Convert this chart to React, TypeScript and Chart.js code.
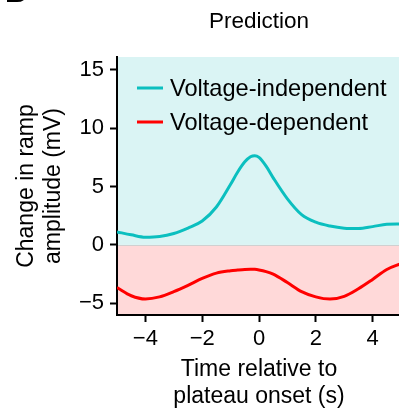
import { useEffect, useRef } from 'react';
import { Chart, registerables } from 'chart.js';

Chart.register(...registerables);

// Time (s) relative to plateau onset
const times = [-5, -4.5, -4, -3.5, -3, -2.5, -2, -1.5, -1, -0.75, -0.5, -0.3, -0.15, 0, 0.25, 0.5, 1, 1.5, 2, 2.5, 3, 3.5, 4, 4.5, 5];

// Predicted change in ramp amplitude (mV)
const voltageIndependent = [1.12, 0.87, 0.66, 0.72, 0.98, 1.45, 2.05, 3.25, 5.2, 6.25, 7.12, 7.55, 7.65, 7.5, 6.75, 5.75, 3.95, 2.6, 1.95, 1.62, 1.44, 1.41, 1.57, 1.77, 1.8];
const voltageDependent = [-3.65, -4.35, -4.63, -4.45, -4.0, -3.46, -2.87, -2.41, -2.21, -2.15, -2.1, -2.08, -2.09, -2.14, -2.28, -2.5, -3.22, -4.0, -4.45, -4.64, -4.4, -3.75, -2.95, -2.1, -1.6];

const seriesLabels = ['Voltage-independent', 'Voltage-dependent'];
const xTicks = [-4, -2, 0, 2, 4];
const yTicks = [-5, 0, 5, 10, 15];

const CYAN = '#0bbfbf';
const RED = '#ff0000';
const BG_UP = '#daf4f4';
const BG_DOWN = '#ffd9d9';
const FONT = "'Liberation Sans', Arial, Helvetica, sans-serif";

const fmt = (v: number) => (v < 0 ? '\u2212' + Math.abs(v) : String(v));

const decor = {
  id: 'decor',
  beforeDraw(chart: any) {
    const { ctx, chartArea: a, scales } = chart;
    const y0 = scales.y.getPixelForValue(0);
    ctx.save();
    ctx.fillStyle = BG_UP;
    ctx.fillRect(a.left, a.top, a.right - a.left, y0 - a.top);
    ctx.fillStyle = BG_DOWN;
    ctx.fillRect(a.left, y0, a.right - a.left, a.bottom - y0);
    ctx.strokeStyle = '#d0d0d0';
    ctx.lineWidth = 1;
    ctx.beginPath();
    ctx.moveTo(a.left, Math.round(y0) + 0.5);
    ctx.lineTo(a.right, Math.round(y0) + 0.5);
    ctx.stroke();
    ctx.restore();
  },
  afterDraw(chart: any) {
    const { ctx, chartArea: a } = chart;
    ctx.save();
    // panel letter
    ctx.fillStyle = '#000';
    ctx.font = `bold 30px ${FONT}`;
    ctx.textAlign = 'left';
    ctx.textBaseline = 'alphabetic';
    ctx.fillText('B', 5, 1.5);

    // title centred over the plotting area
    ctx.font = `22.5px ${FONT}`;
    ctx.textAlign = 'center';
    ctx.textBaseline = 'alphabetic';
    ctx.fillText('Prediction', (a.left + a.right) / 2, 28);

    // legend inside the plotting area
    const colors = [CYAN, RED];
    ctx.font = `23.6px ${FONT}`;
    ctx.textAlign = 'left';
    ctx.textBaseline = 'middle';
    seriesLabels.forEach((label, i) => {
      const cy = a.top + 31 + i * 34;
      ctx.strokeStyle = colors[i];
      ctx.lineWidth = 3;
      ctx.beginPath();
      ctx.moveTo(a.left + 20, cy);
      ctx.lineTo(a.left + 46, cy);
      ctx.stroke();
      ctx.fillStyle = '#000';
      ctx.fillText(label, a.left + 53, cy + 1);
    });
    ctx.restore();
  },
};

export default function App() {
  const ref = useRef<HTMLCanvasElement>(null);

  useEffect(() => {
    const canvas = ref.current;
    if (!canvas) return;
    const tickFont = { family: FONT, size: 22 };
    const titleFont = { family: FONT, size: 23, lineHeight: 1.18 };
    const chart = new Chart(canvas, {
      type: 'line',
      data: {
        datasets: [
          {
            label: seriesLabels[0],
            data: times.map((t, i) => ({ x: t, y: voltageIndependent[i] })),
            borderColor: CYAN,
            borderWidth: 3,
            pointRadius: 0,
            cubicInterpolationMode: 'monotone',
            fill: false,
          },
          {
            label: seriesLabels[1],
            data: times.map((t, i) => ({ x: t, y: voltageDependent[i] })),
            borderColor: RED,
            borderWidth: 3,
            pointRadius: 0,
            cubicInterpolationMode: 'monotone',
            fill: false,
          },
        ],
      },
      options: {
        responsive: false,
        animation: false,
        devicePixelRatio: 1,
        layout: { padding: { top: 57, right: 4, left: 0, bottom: 0 } },
        plugins: {
          legend: { display: false },
          title: { display: false },
          tooltip: { enabled: false },
        },
        scales: {
          x: {
            type: 'linear',
            min: -5,
            max: 5,
            afterBuildTicks: (s: any) => {
              s.ticks = xTicks.map((v) => ({ value: v }));
            },
            afterFit: (s: any) => {
              s.height = 95;
            },
            grid: {
              drawOnChartArea: false,
              drawTicks: true,
              tickLength: 7,
              tickWidth: 2,
              tickColor: '#000',
            },
            border: { display: true, color: '#000', width: 2 },
            ticks: {
              font: tickFont,
              color: '#000',
              padding: 4,
              maxRotation: 0,
              callback: (v: any) => fmt(Number(v)),
            },
            title: {
              display: true,
              text: ['Time relative to', 'plateau onset (s)'],
              font: titleFont,
              color: '#000',
              padding: { top: 0, bottom: 0 },
            },
          },
          y: {
            type: 'linear',
            min: -6,
            max: 16.1,
            afterBuildTicks: (s: any) => {
              s.ticks = yTicks.map((v) => ({ value: v }));
            },
            afterFit: (s: any) => {
              s.width = 117;
            },
            grid: {
              drawOnChartArea: false,
              drawTicks: true,
              tickLength: 7,
              tickWidth: 2,
              tickColor: '#000',
            },
            border: { display: true, color: '#000', width: 2 },
            ticks: {
              font: tickFont,
              color: '#000',
              padding: 6,
              callback: (v: any) => fmt(Number(v)),
            },
            title: {
              display: true,
              text: ['Change in ramp', 'amplitude (mV)'],
              font: titleFont,
              color: '#000',
              padding: { top: 13, bottom: 0 },
            },
          },
        },
      },
      plugins: [decor],
    });
    return () => chart.destroy();
  }, []);

  return (
    <div
      style={{
        position: 'fixed',
        left: 0,
        top: 0,
        width: 399,
        height: 410,
        overflow: 'hidden',
        background: '#fff',
      }}
    >
      <canvas ref={ref} width={405} height={410} style={{ display: 'block' }} />
    </div>
  );
}
